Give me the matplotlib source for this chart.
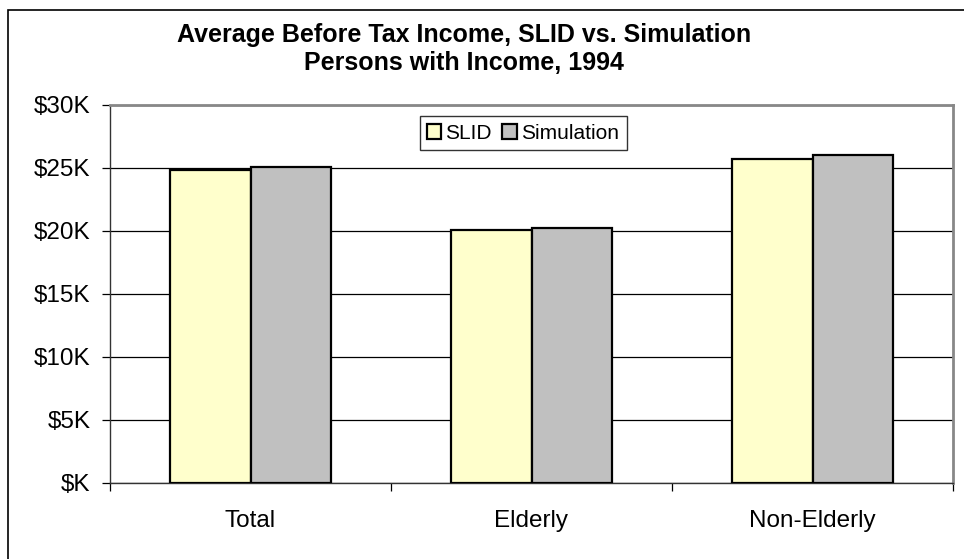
import matplotlib
matplotlib.use("Agg")
import matplotlib.pyplot as plt
from matplotlib.patches import Rectangle
from matplotlib.ticker import FuncFormatter, FixedLocator
import numpy as np

plt.rcParams['font.family'] = ['Liberation Sans', 'DejaVu Sans']

# Average before-tax income, dollars
categories = ['Total', 'Elderly', 'Non-Elderly']
slid = [24780, 20030, 25690]
simulation = [25060, 20160, 25960]
series_names = ['SLID', 'Simulation']

fig = plt.figure(figsize=(9.64, 5.59), dpi=100)
ax = fig.add_axes([110 / 964, 1 - 482.5 / 559, 843 / 964, 378 / 559])

# outer chart frame
fig.patches.append(Rectangle((8 / 964, -0.1), 1.2, 1 - 10 / 559 + 0.1,
                             transform=fig.transFigure, fill=False,
                             edgecolor='black', linewidth=1.2))

x = np.arange(len(categories))
w = 0.285
ax.bar(x - w, slid, w, align='edge', color='#FFFFCC', edgecolor='black',
       linewidth=1.6, label=series_names[0], zorder=3)
ax.bar(x, simulation, w, align='edge', color='#C0C0C0', edgecolor='black',
       linewidth=1.6, label=series_names[1], zorder=3)

ax.set_xlim(-0.5, 2.5)
ax.set_ylim(0, 30000)
ax.set_yticks(np.arange(0, 30001, 5000))
ax.yaxis.set_major_formatter(FuncFormatter(
    lambda v, p: f"${int(v / 1000)}K" if v else "$K"))
ax.yaxis.grid(True, color='black', linewidth=0.9, zorder=0)

ax.set_xticks(x)
ax.set_xticklabels(categories)
ax.xaxis.set_minor_locator(FixedLocator([-0.5, 0.5, 1.5, 2.5]))
ax.tick_params(axis='x', which='major', length=0, pad=20, labelsize=17.5)
ax.tick_params(axis='x', which='minor', length=6, width=0.9, direction='out')
ax.tick_params(axis='y', length=6, width=0.9, direction='out', pad=8,
               labelsize=17.5)

for side in ['left', 'bottom']:
    ax.spines[side].set_color('#333333')
    ax.spines[side].set_linewidth(1.0)
for side in ['top', 'right']:
    ax.spines[side].set_color('#888888')
    ax.spines[side].set_linewidth(2.0)

leg = ax.legend(loc='upper center', bbox_to_anchor=((523 - 110) / 843, 1 - 12 / 378),
                ncol=2, frameon=True, fancybox=False, fontsize=15,
                handlelength=0.7, handleheight=0.7, handletextpad=0.2,
                columnspacing=0.5, borderpad=0.35, borderaxespad=0)
leg.get_frame().set_edgecolor('black')
leg.get_frame().set_linewidth(1.0)

fig.text(464 / 964, 1 - 35 / 559, 'Average Before Tax Income, SLID vs. Simulation',
         ha='center', va='center', fontsize=18, fontweight='bold')
fig.text(464 / 964, 1 - 63 / 559, 'Persons with Income, 1994',
         ha='center', va='center', fontsize=18, fontweight='bold')

fig.savefig('out.png', dpi=100)
